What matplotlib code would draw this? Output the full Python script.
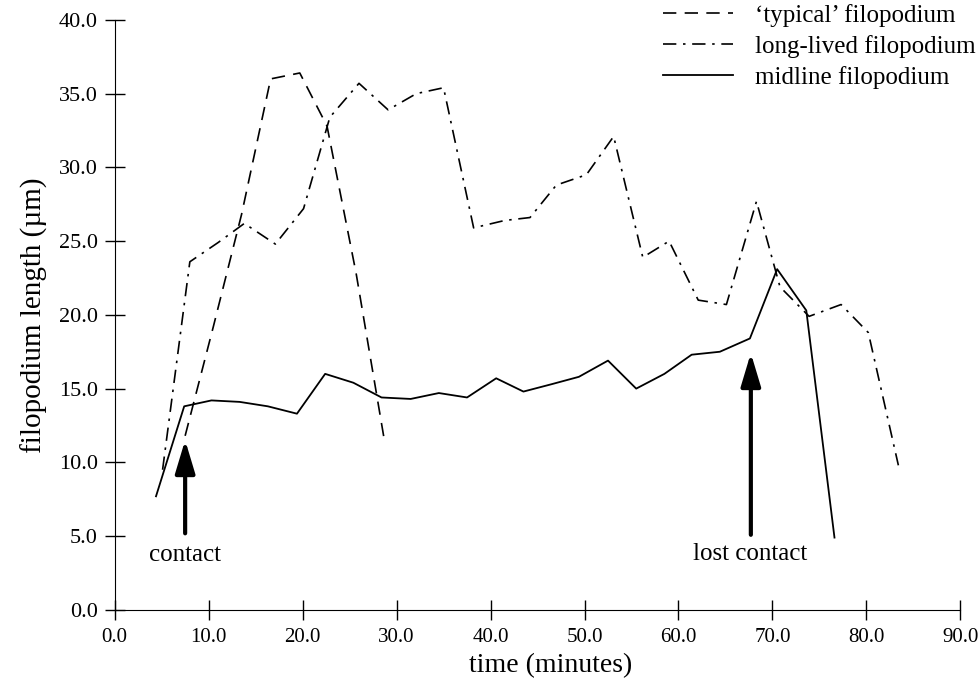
import numpy as np
import matplotlib
matplotlib.use("Agg")
import matplotlib.pyplot as plt

plt.rcParams['font.family'] = ['Liberation Serif', 'DejaVu Serif']

# 'typical' filopodium (dashed)
t_typ = [7.5, 10.5, 13.5, 16.6, 19.7, 22.6, 25.7, 28.7]
v_typ = [11.8, 19.2, 26.8, 36.0, 36.4, 32.8, 22.8, 11.5]

# long-lived filopodium (dash-dot)
t_long = [5.1, 8.0, 11.0, 13.8, 17.1, 20.1, 22.9, 26.0, 29.1, 32.1, 35.0, 38.2, 41.5,
          44.2, 47.0, 50.2, 53.1, 56.2, 59.0, 62.1, 65.1, 68.3, 70.8, 73.9, 77.3,
          80.2, 83.4]
v_long = [9.5, 23.6, 24.9, 26.2, 24.8, 27.2, 33.4, 35.7, 33.9, 35.0, 35.4, 25.9, 26.4,
          26.6, 28.8, 29.5, 32.1, 23.9, 25.0, 21.0, 20.7, 27.7, 21.9, 19.9, 20.7,
          18.8, 9.8]

# midline filopodium (solid)
t_mid = [4.4, 7.4, 10.3, 13.3, 16.3, 19.4, 22.4, 25.4, 28.4, 31.5, 34.5, 37.5, 40.6,
         43.5, 46.5, 49.4, 52.5, 55.5, 58.5, 61.4, 64.4, 67.6, 70.5, 73.6, 76.6]
v_mid = [7.7, 13.8, 14.2, 14.1, 13.8, 13.3, 16.0, 15.4, 14.4, 14.3, 14.7, 14.4, 15.7,
         14.8, 15.3, 15.8, 16.9, 15.0, 16.0, 17.3, 17.5, 18.4, 23.1, 20.3, 4.9]

xticks = np.arange(0, 91, 10)
yticks = np.arange(0, 41, 5)

fig = plt.figure(figsize=(9.8, 6.86), dpi=100)
ax = fig.add_axes([0.117, 0.111, 0.863, 0.86])

ax.plot(t_typ, v_typ, color='black', lw=1.2, dashes=(8, 5), label="\u2018typical\u2019 filopodium")
ax.plot(t_long, v_long, color='black', lw=1.2, dashes=(8, 4, 1.5, 4), label='long-lived filopodium')
ax.plot(t_mid, v_mid, color='black', lw=1.3, label='midline filopodium')

# arrows
arrow = dict(arrowstyle='-|>,head_length=2.0,head_width=0.6', color='black', lw=3)
ax.annotate('', xy=(7.5, 11.7), xytext=(7.5, 5.0), arrowprops=arrow)
ax.annotate('', xy=(67.7, 17.6), xytext=(67.7, 4.9), arrowprops=arrow)
ax.text(7.5, 3.7, 'contact', ha='center', va='center', fontsize=18)
ax.text(67.6, 3.8, 'lost contact', ha='center', va='center', fontsize=18)

ax.set_xlim(0, 90)
ax.set_ylim(0, 40)
ax.set_xticks(xticks)
ax.set_yticks(yticks)
ax.set_xticklabels(['%.1f' % x for x in xticks], fontsize=15)
ax.set_yticklabels(['%.1f' % y for y in yticks], fontsize=16)
ax.tick_params(axis='y', direction='inout', length=14, width=1, pad=5)
ax.tick_params(axis='x', direction='inout', length=14, width=1, pad=6)
ax.spines['top'].set_visible(False)
ax.spines['right'].set_visible(False)
ax.set_xlabel('time (minutes)', fontsize=20)
ax.xaxis.set_label_coords(0.516, -0.073)
ax.set_ylabel('filopodium length (\u00b5m)', fontsize=21, labelpad=8)

leg = ax.legend(loc='upper right', bbox_to_anchor=(1.045, 1.065), frameon=False, fontsize=18,
                handlelength=2.8, handletextpad=0.9, labelspacing=0.32)

fig.savefig('out.png', dpi=100)
